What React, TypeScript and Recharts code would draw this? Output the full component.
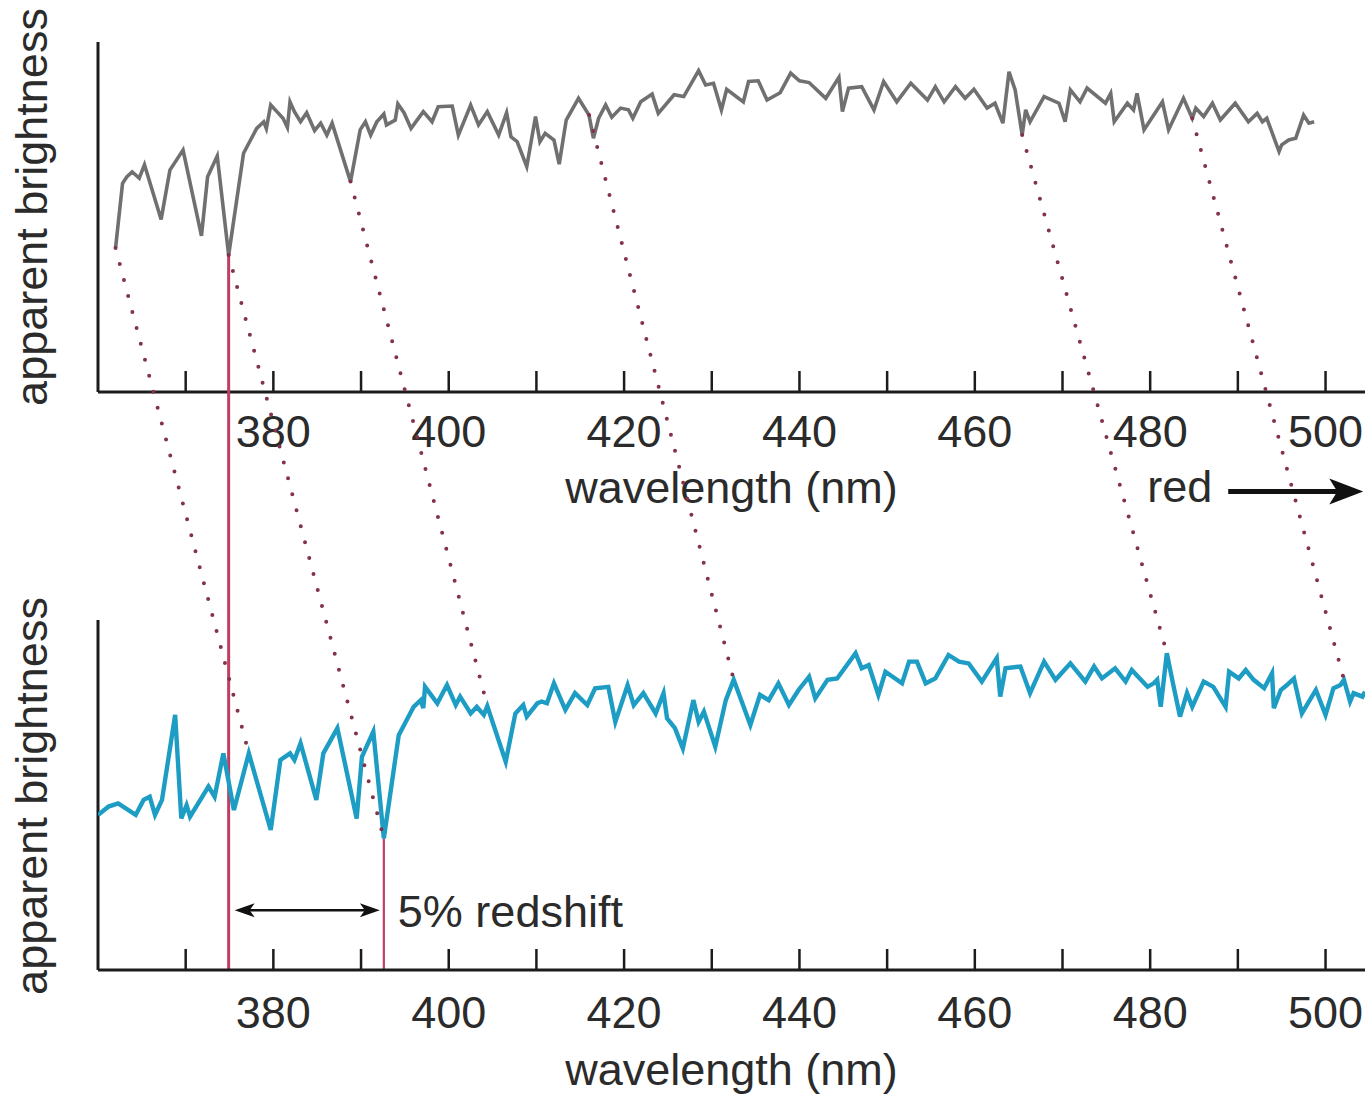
import React from 'react';
import { ComposedChart, Line, XAxis, YAxis, ReferenceLine } from 'recharts';

// ---------- data (wavelength in nm, brightness in arbitrary units 0-100 per panel) ----------
const restWavelength = [
  362.0, 362.8, 363.3, 363.9, 364.3, 364.7, 365.3, 367.2, 368.2, 369.7,
  371.8, 372.5, 373.6, 374.9, 376.6, 377.4, 378.1, 378.9, 379.2, 379.7,
  380.4, 381.1, 381.6, 381.9, 382.4, 383.1, 383.8, 384.7, 385.4, 386.1,
  386.7, 388.8, 389.9, 390.5, 391.1, 391.8, 392.6, 392.9, 393.9, 394.2,
  394.9, 395.7, 397.1, 398.1, 398.8, 400.4, 401.1, 402.5, 403.4, 404.4,
  405.7, 406.6, 407.1, 407.8, 408.9, 409.9, 410.4, 411.0, 412.0, 412.6,
  413.4, 414.8, 416.0, 416.5, 417.1, 417.9, 418.6, 419.6, 420.5, 421.0,
  421.9, 423.2, 423.9, 425.7, 426.8, 428.5, 429.3, 430.2, 431.1, 431.7,
  433.6, 434.2, 435.3, 436.3, 437.8, 439.0, 440.0, 441.1, 443.0, 444.5,
  444.9, 445.6, 447.1, 448.5, 449.6, 451.1, 452.7, 454.6, 455.5, 456.5,
  457.8, 458.9, 459.9, 461.4, 462.3, 463.2, 463.9, 464.6, 465.4, 465.8,
  466.3, 467.9, 469.6, 470.3, 470.9, 472.0, 472.8, 474.9, 475.5, 475.9,
  477.4, 478.1, 478.5, 479.3, 481.4, 482.1, 483.8, 484.8, 485.2, 486.1,
  487.1, 488.0, 489.7, 491.2, 492.2, 492.8, 493.3, 494.7, 495.0, 495.8,
  496.6, 497.5, 498.1, 498.7,
];
const restBrightness = [
  41.1, 59.6, 61.5, 62.9, 62.0, 61.1, 64.9, 49.3, 63.4, 69.1,
  44.6, 61.5, 67.4, 39.1, 68.2, 72.0, 75.3, 77.2, 75.3, 82.0,
  80.1, 78.2, 75.6, 82.9, 80.1, 77.2, 79.8, 74.7, 76.8, 73.4,
  76.8, 60.1, 74.9, 77.2, 73.4, 77.2, 79.4, 76.3, 77.7, 82.3,
  79.8, 75.3, 80.1, 77.2, 81.5, 81.7, 73.4, 82.0, 76.3, 80.1,
  73.4, 79.8, 72.9, 71.5, 64.4, 78.7, 71.5, 73.9, 72.0, 65.1,
  77.7, 83.9, 79.1, 72.5, 78.2, 82.0, 78.5, 81.1, 80.6, 78.2,
  82.9, 85.1, 79.6, 84.9, 84.4, 91.8, 87.7, 88.2, 80.6, 86.5,
  82.9, 88.7, 88.9, 83.4, 85.5, 91.1, 88.9, 88.4, 83.9, 89.9,
  80.1, 86.8, 87.2, 80.6, 88.7, 82.9, 88.2, 83.4, 87.2, 82.9,
  87.2, 83.9, 86.5, 81.1, 82.5, 76.8, 91.5, 86.3, 73.4, 80.6,
  77.2, 84.4, 82.5, 77.2, 86.3, 82.9, 86.8, 82.5, 85.3, 77.2,
  82.5, 80.6, 85.3, 74.9, 82.9, 74.9, 83.9, 78.2, 81.1, 78.7,
  82.5, 77.7, 82.5, 77.2, 79.6, 77.2, 78.2, 68.7, 70.6, 72.0,
  72.5, 79.1, 76.8, 77.2,
];

const shiftedWavelength = [
  360.0, 361.2, 362.3, 364.3, 365.2, 365.9, 366.5, 367.3, 368.8, 369.5,
  370.1, 370.5, 372.6, 373.3, 374.3, 375.5, 377.2, 379.7, 380.8, 381.9,
  382.4, 383.1, 384.9, 385.7, 387.3, 389.5, 390.1, 391.4, 392.6, 394.3,
  396.0, 396.8, 397.1, 397.3, 398.7, 399.8, 400.8, 401.3, 402.5, 403.2,
  404.0, 404.4, 406.5, 407.6, 408.5, 408.9, 410.1, 410.6, 411.2, 412.0,
  413.3, 414.4, 415.8, 416.7, 418.2, 419.0, 420.4, 421.1, 422.2, 423.6,
  424.5, 424.9, 425.8, 426.7, 427.9, 428.5, 429.1, 430.4, 431.6, 432.5,
  434.4, 435.5, 436.5, 437.6, 438.8, 439.9, 441.1, 441.8, 443.2, 444.3,
  446.4, 447.1, 447.9, 449.0, 449.8, 451.7, 452.5, 453.4, 454.4, 455.5,
  457.0, 458.2, 459.3, 460.8, 462.5, 462.9, 463.5, 465.2, 466.3, 467.9,
  469.2, 470.9, 472.6, 473.6, 474.5, 476.0, 477.2, 477.9, 479.7, 480.4,
  480.8, 481.2, 481.9, 482.6, 483.4, 484.2, 484.8, 486.1, 487.2, 488.6,
  489.0, 490.1, 490.9, 491.8, 493.0, 493.9, 494.1, 494.9, 495.6, 496.4,
  497.3, 498.9, 500.0, 500.9, 501.7, 502.1, 502.8, 503.2, 504.2, 504.5,
];
const shiftedBrightness = [
  44.3, 46.7, 47.6, 44.3, 48.6, 49.5, 44.3, 48.6, 72.9, 43.3,
  47.1, 43.8, 52.4, 49.5, 61.9, 45.7, 61.9, 40.0, 60.0, 61.9,
  60.0, 64.8, 48.6, 61.9, 69.1, 43.3, 60.9, 68.1, 37.6, 67.1,
  75.2, 77.1, 74.8, 80.9, 76.2, 81.4, 75.7, 78.1, 73.3, 75.2,
  72.9, 75.4, 59.5, 73.3, 75.7, 72.4, 76.2, 76.7, 76.2, 81.9,
  74.3, 79.1, 75.7, 80.5, 80.9, 70.9, 81.4, 75.7, 79.1, 73.3,
  79.1, 71.9, 69.1, 63.3, 77.1, 70.9, 73.8, 63.8, 77.1, 82.9,
  70.0, 78.6, 77.1, 81.9, 75.7, 80.0, 83.8, 77.6, 82.9, 83.3,
  90.5, 86.2, 87.1, 78.6, 85.2, 81.9, 88.1, 88.1, 81.9, 83.3,
  90.0, 88.1, 87.6, 82.4, 89.1, 78.1, 86.2, 86.7, 79.1, 88.1,
  82.9, 87.6, 82.4, 86.7, 83.3, 86.2, 82.4, 85.7, 80.9, 81.9,
  82.9, 75.2, 90.5, 81.9, 72.4, 79.1, 75.2, 82.4, 80.9, 75.2,
  85.2, 83.3, 85.7, 82.9, 80.5, 84.8, 74.8, 80.0, 81.4, 83.3,
  73.3, 80.0, 72.9, 80.5, 81.4, 82.9, 76.7, 79.1, 78.1, 79.5,
];

// matched absorption features (rest -> redshifted)
const matchedRest = [362.0, 374.9, 388.8, 416.0, 465.4, 484.8];
const matchedShifted = [377.2, 392.6, 404.4, 432.5, 481.9, 502.1];
const highlightRest = 374.9;
const highlightShifted = 392.6;

const xTicks = [370, 380, 390, 400, 410, 420, 430, 440, 450, 460, 470, 480, 490, 500];
const labeledTicks = [380, 400, 420, 440, 460, 480, 500];

// ---------- layout ----------
const W = 1370;
const H = 1098;
const X_DOMAIN: [number, number] = [360, 504.5];
const Y_MAX = 265.7; // brightness units spanned by the whole plot
const PANEL = 100; // height of one panel in brightness units
const TOP_BASE = 165.14; // where the top panel's zero sits
const TICK_UNITS = 6;
const REDSHIFT_ARROW_Y = 17.1;
const RED_ARROW = { x1: 488.9, x2: 504.3, y: 136.7 };

const AXIS = '#1c1c1c';
const TEXT = '#2b2b2b';
const FONT = '"Liberation Sans", Arial, Helvetica, sans-serif';
const FS = 45;
const GRAY = '#707070';
const CYAN = '#1d9cc4';
const DOT = '#82324a';
const RED = '#bf3f63';

const restTable = restWavelength.map((nm, i) => ({ nm, y: restBrightness[i] + TOP_BASE }));
const shiftedTable = shiftedWavelength.map((nm, i) => ({ nm, y: shiftedBrightness[i] }));

const lookup = (xs: number[], ys: number[], x: number) => {
  let best = 0;
  xs.forEach((v, i) => {
    if (Math.abs(v - x) < Math.abs(xs[best] - x)) best = i;
  });
  return ys[best];
};

const txt = (x: number, y: number, s: string, anchor = 'middle', extra: any = {}) => (
  <text x={x} y={y} textAnchor={anchor} fontFamily={FONT} fontSize={FS} fill={TEXT} {...extra}>
    {s}
  </text>
);

const BottomTick = (props: any) => {
  const { x, y, payload } = props;
  return (
    <g>
      <line x1={x} x2={x} y1={y} y2={y - 21} stroke={AXIS} strokeWidth={2.5} />
      {labeledTicks.includes(payload.value) ? txt(x, y + 58, String(payload.value)) : null}
    </g>
  );
};

const yAxisShape = (centerY: number) => (p: any) => (
  <g>
    <line x1={p.x1} y1={p.y1} x2={p.x2} y2={p.y2} stroke={AXIS} strokeWidth={3} />
    <text
      transform={`translate(${p.x1 - 51}, ${centerY}) rotate(-90)`}
      textAnchor="middle"
      fontFamily={FONT}
      fontSize={FS}
      fill={TEXT}
    >
      apparent brightness
    </text>
  </g>
);

const topAxisShape = (p: any) => (
  <g>
    <line x1={p.x1} y1={p.y1} x2={p.x2} y2={p.y2} stroke={AXIS} strokeWidth={3} />
    {txt((p.x1 + p.x2) / 2, p.y1 + 111, 'wavelength (nm)')}
  </g>
);

const topTickShape = (value: number) => (p: any) => {
  const base = Math.max(p.y1, p.y2);
  return (
    <g>
      <line x1={p.x1} y1={p.y1} x2={p.x2} y2={p.y2} stroke={AXIS} strokeWidth={2.5} />
      {labeledTicks.includes(value) ? txt(p.x1, base + 55, String(value)) : null}
    </g>
  );
};

const dottedShape = (p: any) => (
  <line
    x1={p.x1}
    y1={p.y1}
    x2={p.x2}
    y2={p.y2}
    stroke={DOT}
    strokeWidth={4}
    strokeLinecap="round"
    strokeDasharray="0 16.5"
  />
);

const redshiftArrowShape = (p: any) => {
  const a = p.x1 + 6;
  const b = p.x2 - 4;
  const y = p.y1;
  return (
    <g>
      <line x1={a + 10} y1={y} x2={b - 10} y2={y} stroke="#111" strokeWidth={2.5} />
      <polygon points={`${a},${y} ${a + 20},${y - 7} ${a + 15},${y} ${a + 20},${y + 7}`} fill="#111" />
      <polygon points={`${b},${y} ${b - 20},${y - 7} ${b - 15},${y} ${b - 20},${y + 7}`} fill="#111" />
      {txt(p.x2 + 14, y + 17, '5% redshift', 'start')}
    </g>
  );
};

const redArrowShape = (p: any) => {
  const y = p.y1;
  const tip = p.x2;
  return (
    <g>
      <line x1={p.x1} y1={y} x2={tip - 20} y2={y} stroke="#111" strokeWidth={5} />
      <polygon points={`${tip},${y} ${tip - 34},${y - 13} ${tip - 26},${y} ${tip - 34},${y + 13}`} fill="#111" />
      {txt(p.x1 - 16, y + 10, 'red', 'end')}
    </g>
  );
};

export default function App() {
  const topDipY = lookup(restWavelength, restBrightness, highlightRest) + TOP_BASE;
  const shiftedDipY = lookup(shiftedWavelength, shiftedBrightness, highlightShifted);
  return (
    <div style={{ position: 'absolute', left: 0, top: 0, width: W, height: H, background: '#fff' }}>
      <ComposedChart width={W} height={H} margin={{ top: 40, right: 5, bottom: 0, left: 98 }}>
        <XAxis
          type="number"
          dataKey="nm"
          domain={X_DOMAIN}
          allowDataOverflow
          ticks={xTicks}
          interval={0}
          height={128}
          tickSize={0}
          tickMargin={0}
          tickLine={false}
          axisLine={{ stroke: AXIS, strokeWidth: 3 }}
          tick={BottomTick}
          label={(props: any) => {
            const vb = props.viewBox || {};
            return txt((vb.x ?? 98) + (vb.width ?? 1267) / 2, (vb.y ?? 970) + 115, 'wavelength (nm)');
          }}
        />
        <YAxis type="number" hide domain={[0, Y_MAX]} allowDataOverflow />

        {/* panel axes */}
        <ReferenceLine
          ifOverflow="visible"
          segment={[{ x: X_DOMAIN[0], y: TOP_BASE }, { x: X_DOMAIN[0], y: TOP_BASE + PANEL }]}
          shape={yAxisShape(207)}
        />
        <ReferenceLine
          ifOverflow="visible"
          segment={[{ x: X_DOMAIN[0], y: 0 }, { x: X_DOMAIN[0], y: PANEL }]}
          shape={yAxisShape(796)}
        />
        <ReferenceLine
          ifOverflow="visible"
          segment={[{ x: X_DOMAIN[0], y: TOP_BASE }, { x: X_DOMAIN[1], y: TOP_BASE }]}
          shape={topAxisShape}
        />
        {xTicks.map((t) => (
          <ReferenceLine
            key={`tt${t}`}
            ifOverflow="visible"
            segment={[{ x: t, y: TOP_BASE }, { x: t, y: TOP_BASE + TICK_UNITS }]}
            shape={topTickShape(t)}
          />
        ))}

        {/* red reference lines */}
        <ReferenceLine
          ifOverflow="visible"
          segment={[{ x: highlightRest, y: topDipY }, { x: highlightRest, y: 0 }]}
          stroke={RED}
          strokeWidth={3}
        />
        <ReferenceLine
          ifOverflow="visible"
          segment={[{ x: highlightShifted, y: shiftedDipY }, { x: highlightShifted, y: 0 }]}
          stroke={RED}
          strokeWidth={2.2}
        />

        <Line
          data={restTable}
          dataKey="y"
          type="linear"
          stroke={GRAY}
          strokeWidth={3.6}
          dot={false}
          activeDot={false}
          isAnimationActive={false}
        />
        <Line
          data={shiftedTable}
          dataKey="y"
          type="linear"
          stroke={CYAN}
          strokeWidth={4.4}
          dot={false}
          activeDot={false}
          isAnimationActive={false}
        />

        {/* dotted connectors */}
        {matchedRest.map((r, i) => (
          <ReferenceLine
            key={`c${i}`}
            ifOverflow="visible"
            segment={[
              { x: r, y: lookup(restWavelength, restBrightness, r) + TOP_BASE },
              { x: matchedShifted[i], y: lookup(shiftedWavelength, shiftedBrightness, matchedShifted[i]) },
            ]}
            shape={dottedShape}
          />
        ))}

        {/* arrows */}
        <ReferenceLine
          ifOverflow="visible"
          segment={[{ x: highlightRest, y: REDSHIFT_ARROW_Y }, { x: highlightShifted, y: REDSHIFT_ARROW_Y }]}
          shape={redshiftArrowShape}
        />
        <ReferenceLine
          ifOverflow="visible"
          segment={[{ x: RED_ARROW.x1, y: RED_ARROW.y }, { x: RED_ARROW.x2, y: RED_ARROW.y }]}
          shape={redArrowShape}
        />
      </ComposedChart>
    </div>
  );
}
